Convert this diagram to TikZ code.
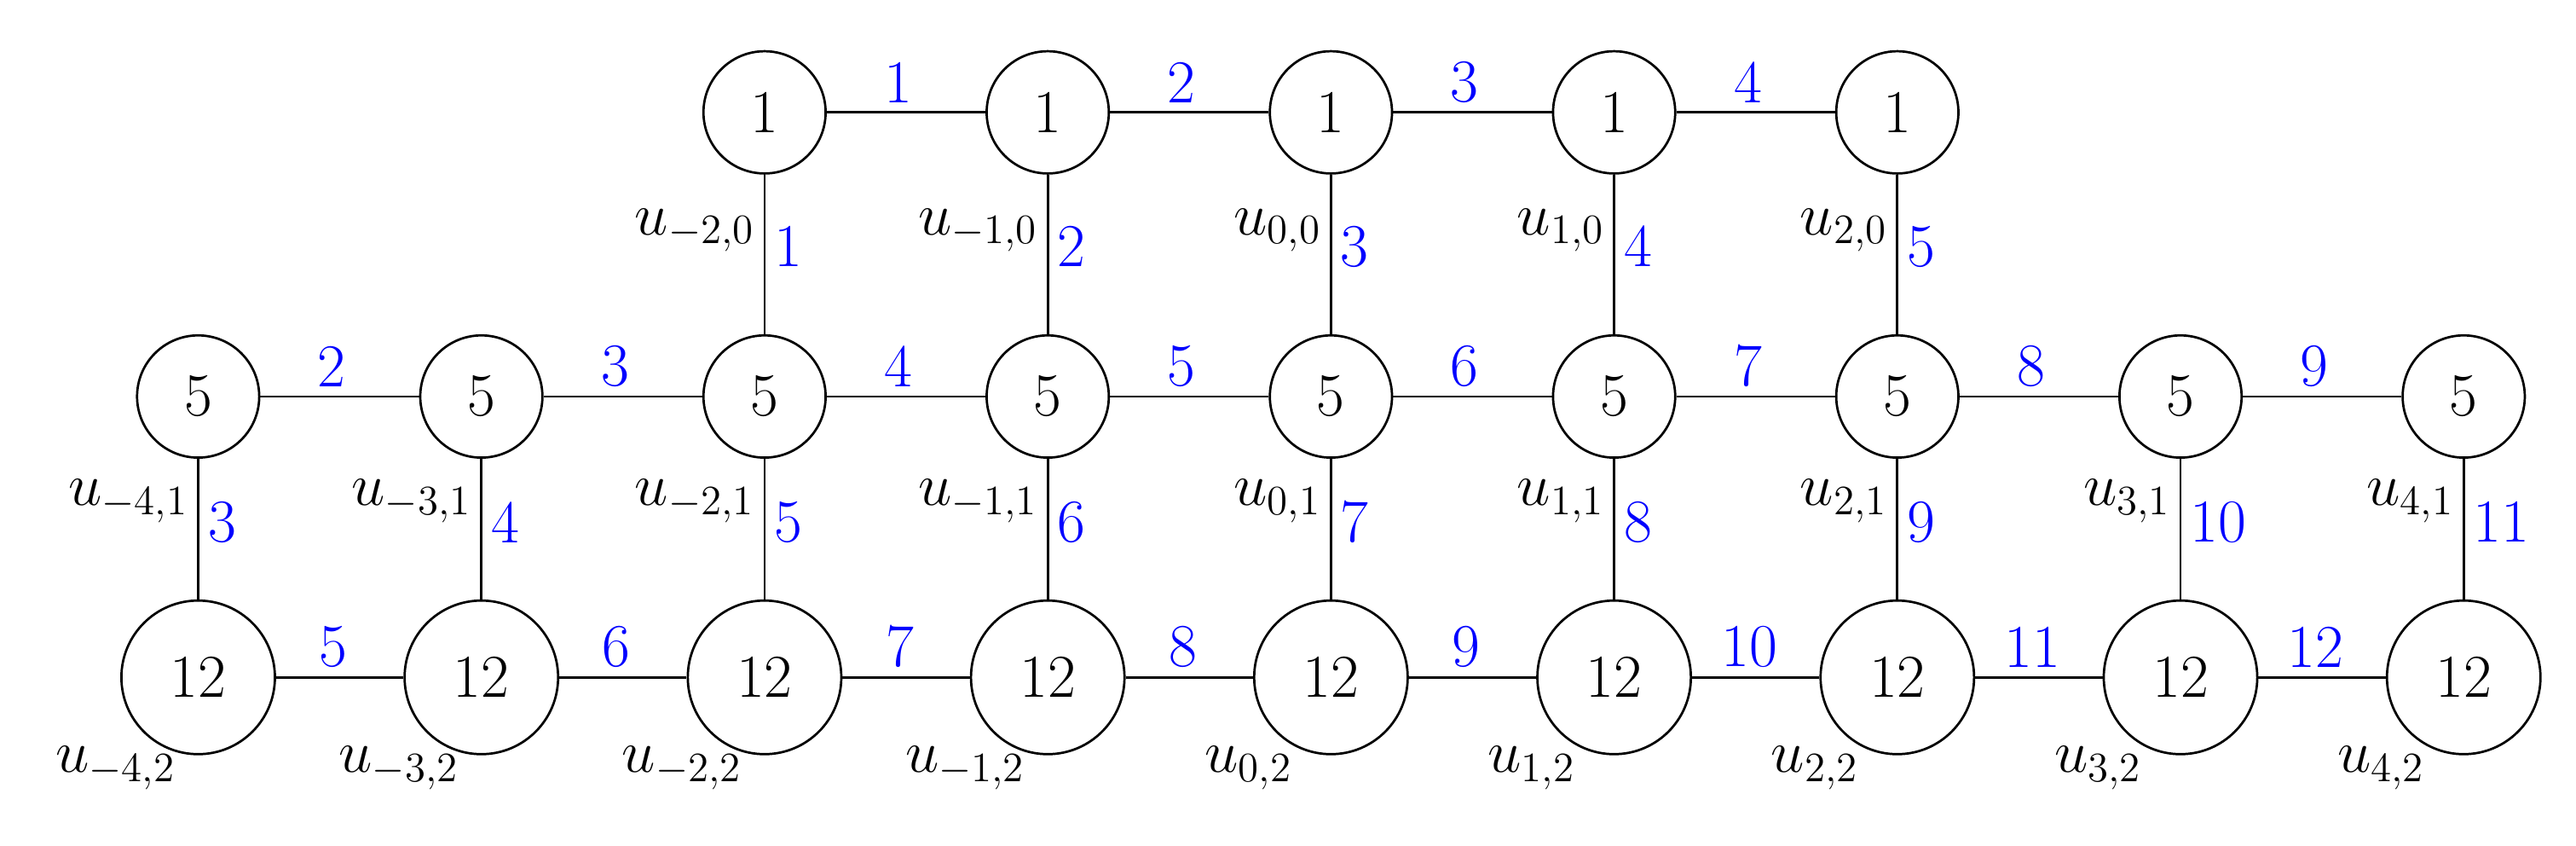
\documentclass[tikz,border=0pt]{standalone}
\begin{document}
\begin{tikzpicture}[x=0.02cm,y=-0.02cm,
  v/.style={circle,draw,thick,minimum size=1.48cm,inner sep=1pt,font=\fontsize{21}{25}\selectfont},
  e/.style={thick},
  bl/.style={text=blue,font=\fontsize{21}{25}\selectfont,inner sep=3pt},
  ul/.style={font=\fontsize{21}{25}\selectfont,inner sep=3pt}]
\useasboundingbox (0,0) rectangle (1560,512);
\foreach \i [count=\c from 0] in {-4,...,4}{
  \pgfmathsetmacro\xx{120+171.5*\c}
  \node[v] (m\c) at (\xx,240) {5};
  \node[v,minimum size=1.86cm] (b\c) at (\xx,410) {12};
  \draw[e] (m\c) -- (b\c) node[bl,right,pos=0.45]{\the\numexpr\c+3\relax}
     node[ul,left,pos=0.3]{$u_{\i,1}$};
  \node[ul] at (\xx-50,465) {$u_{\i,2}$};
}
\foreach \i [count=\c from 2] in {-2,...,2}{
  \node[v] (t\c) at (120+171.5*\c,68) {1};
  \draw[e] (t\c) -- (m\c) node[bl,right,pos=0.45]{\the\numexpr\c-1\relax}
     node[ul,left,pos=0.35]{$u_{\i,0}$};
}
\foreach \c [evaluate=\c as \n using int(\c+1)] in {2,...,5}
  \draw[e] (t\c) -- (t\n) node[bl,above,pos=0.45]{\the\numexpr\c-1\relax};
\foreach \c [evaluate=\c as \n using int(\c+1)] in {0,...,7}{
  \draw[e] (m\c) -- (m\n) node[bl,above,pos=0.45]{\the\numexpr\c+2\relax};
  \draw[e] (b\c) -- (b\n) node[bl,above,pos=0.45]{\the\numexpr\c+5\relax};
}
\end{tikzpicture}
\end{document}
